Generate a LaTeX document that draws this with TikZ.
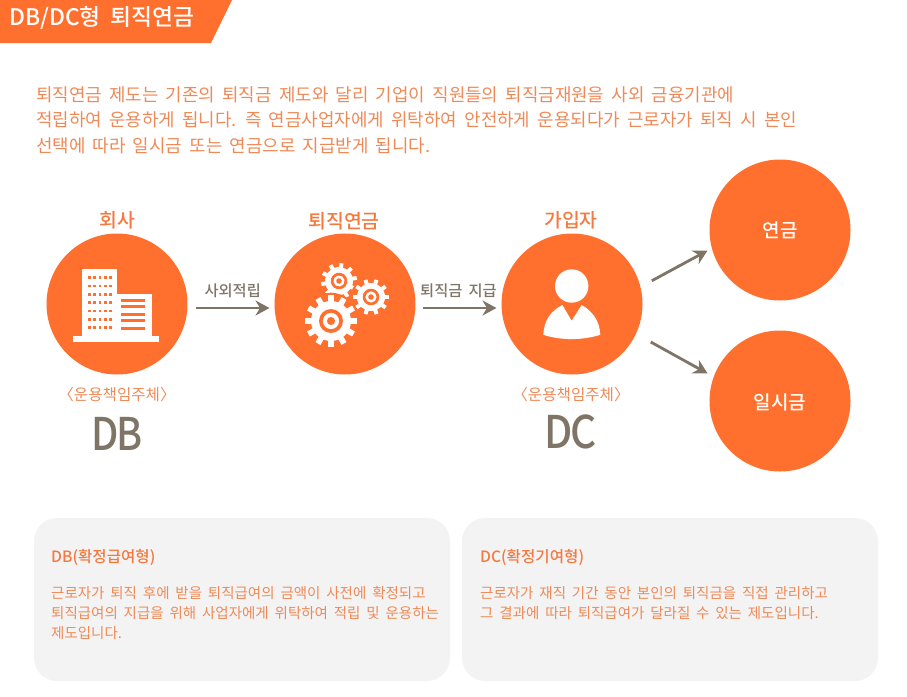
\documentclass[tikz,border=0pt]{standalone}
\usepackage{fontspec}
\setmainfont{Noto Sans CJK KR}
\newfontfamily\kr[WordSpace=1.8]{Noto Sans CJK KR}
\newfontfamily\krm[WordSpace=1.8]{Noto Sans CJK KR Medium}
\usetikzlibrary{arrows.meta}
\definecolor{brand}{HTML}{FF6F2D}
\definecolor{softtxt}{HTML}{EE8A58}
\definecolor{headtxt}{HTML}{F4793F}
\definecolor{taupe}{HTML}{7F7567}
\definecolor{panel}{HTML}{F3F3F3}
\newcommand{\fs}[1]{\fontsize{#1}{#1}\selectfont}
\newcommand{\gearicon}[6]{% x y outer root teeth rotation
  \begin{scope}[shift={(#1,#2)},rotate=#6]
    \fill[brand] (0,0) circle[radius=#3+2.2];
    \fill[white] (0,0) circle[radius=#4];
    \foreach \a in {1,...,#5}{
      \fill[white,rotate=\a*360/#5] (#4-1,-#3*0.11) rectangle (#3,#3*0.11);
    }
    \fill[brand] (0,0) circle[radius=#3*0.46];
    \fill[white] (0,0) circle[radius=#3*0.31];
    \fill[brand] (0,0) circle[radius=#3*0.155];
  \end{scope}}
\tikzset{
  x=1pt,y=-1pt,
  disc/.style={circle,fill=brand,minimum size=141pt,inner sep=0pt,outer sep=0pt},
  flow/.style={draw=taupe,line width=2.8pt,-{Stealth[length=14pt,width=15pt,inset=4.5pt]}},
  para/.style={anchor=west,inner sep=0pt,text=softtxt,font=\kr\fs{17.9}},
  body/.style={anchor=west,inner sep=0pt,text=softtxt,font=\kr\fs{14.5}},
  boxhead/.style={anchor=west,inner sep=0pt,text=headtxt,font=\krm\fs{15.6}},
  role/.style={inner sep=0pt,text=headtxt,font=\krm\fs{19.4}},
  duty/.style={inner sep=0pt,text=softtxt,font=\fs{15.6}},
  kind/.style={inner sep=0pt,text=taupe,font=\krm\fs{45}},
  flowlabel/.style={inner sep=0pt,text=taupe,font=\krm\fs{15.3}},
  disclabel/.style={inner sep=0pt,text=white,font=\krm\fs{19}},
  panelbox/.style={fill=panel,rounded corners=23pt}
}
\begin{document}
\begin{tikzpicture}
\useasboundingbox (0,0) rectangle (907,696);
% header
\fill[brand] (0,0) -- (232,0) -- (211,43) -- (0,43) -- cycle;
\node[anchor=west,inner sep=0pt,text=white,font=\krm\fs{22.8}] (title) at (9,18) {DB/DC형 퇴직연금};
% intro
\node[para] (p1) at (36,95) {퇴직연금 제도는 기존의 퇴직금 제도와 달리 기업이 직원들의 퇴직금재원을 사외 금융기관에};
\node[para] (p2) at (36,120) {적립하여 운용하게 됩니다. 즉 연금사업자에게 위탁하여 안전하게 운용되다가 근로자가 퇴직 시 본인};
\node[para] (p3) at (36,146) {선택에 따라 일시금 또는 연금으로 지급받게 됩니다.};
% discs
\node[disc] (company) at (117,304) {};
\node[disc] (fund) at (345,304) {};
\node[disc] (member) at (572,304) {};
\node[disc] (pension) at (780,230) {};
\node[disc] (lump) at (780,401) {};
% labels
\node[role] (lc) at (117,220) {회사};
\node[role] (lf) at (344,221) {퇴직연금};
\node[role] (lm) at (571,220) {가입자};
\node[duty] (d1) at (117,395) {〈운용책임주체〉};
\node[duty] (d2) at (571,395) {〈운용책임주체〉};
\node[kind] (db) at (117,434) {\scalebox{0.87}[1]{D\kern-2.5pt B}};
\node[kind] (dc) at (571,432) {\scalebox{0.9}[1]{D\kern-2.5pt C}};
\node[disclabel] (t1) at (780,230) {연금};
\node[disclabel] (t2) at (780,402) {일시금};
% connectors
\draw[flow,shorten <=8pt,shorten >=5pt] ([yshift=-4pt]company.east) -- node[above=9pt,flowlabel,pos=0.52] (f1) {사외적립} ([yshift=-4pt]fund.west);
\draw[flow,shorten <=7pt,shorten >=5pt] ([yshift=-4pt]fund.east) -- node[above=9pt,flowlabel,pos=0.5] (f2) {퇴직금 지급} ([yshift=-4pt]member.west);
\draw[flow,shorten <=13pt,shorten >=5pt] (member.14) -- (pension.195);
\draw[flow,shorten <=17pt,shorten >=7pt] (member.-25) -- (lump.160);
% building
\fill[white] (73.3,336) rectangle (159.3,341.7);
\fill[white] (82.3,269.3) rectangle (117.3,337);
\fill[white] (117,294.3) rectangle (151.7,337);
\foreach \yy in {277.7,286,294.3,302.7,311,319.3,327.7}
  \foreach \xx in {89.3,94.6,100,105.4,110.7}
    \fill[brand] (\xx-1.4,\yy-1.4) rectangle (\xx+1.4,\yy+1.4);
\foreach \yy in {300,306.9,314,320.9,328.3}
  \fill[brand] (120.7,\yy-1.5) rectangle (145.3,\yy+1.5);
% gears
\gearicon{339}{281}{18}{14}{10}{10}
\gearicon{371}{297}{18}{14}{10}{0}
\gearicon{331}{321}{26}{20}{12}{0}
% person
\fill[white] (571.7,286) circle[radius=16.7];
\fill[white] (543.3,334.8) .. controls (544,320) and (551,311) .. (562.3,305)
  -- (571.7,320.7) -- (581.7,305)
  .. controls (592,311) and (599.5,320) .. (600.3,334.8)
  .. controls (582,340.5) and (561,340.5) .. (543.3,334.8) -- cycle;
% panels
\fill[panelbox] (34,518) rectangle (450,681);
\fill[panelbox] (462,518) rectangle (878,681);
\node[boxhead] (h1) at (51,557) {DB(확정급여형)};
\node[body] (b1) at (51,593) {근로자가 퇴직 후에 받을 퇴직급여의 금액이 사전에 확정되고};
\node[body] (b2) at (51,613) {퇴직급여의 지급을 위해 사업자에게 위탁하여 적립 및 운용하는};
\node[body] (b3) at (51,633) {제도입니다.};
\node[boxhead] (h2) at (480,557) {DC(확정기여형)};
\node[body] (b4) at (480,593) {근로자가 재직 기간 동안 본인의 퇴직금을 직접 관리하고};
\node[body] (b5) at (480,613) {그 결과에 따라 퇴직급여가 달라질 수 있는 제도입니다.};
\end{tikzpicture}
\end{document}
